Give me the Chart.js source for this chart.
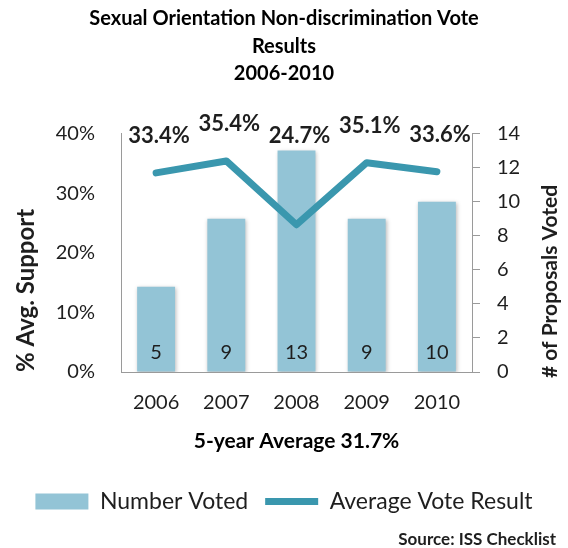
<!DOCTYPE html>
<html>
<head>
<meta charset="utf-8">
<script src="https://cdn.jsdelivr.net/npm/chart.js@4"></script>
<style>
  html, body { margin: 0; padding: 0; background: #ffffff; }
  #wrap { width: 568px; height: 548px; }
</style>
</head>
<body>
<div id="wrap"><canvas id="votosChart" width="568" height="548"></canvas></div>
<script>
// datos del gráfico
const anios = ['2006', '2007', '2008', '2009', '2010'];
const propuestasVotadas = [5, 9, 13, 9, 10];
const apoyoPromedio = [33.4, 35.4, 24.7, 35.1, 33.6];
const titulo = ['Sexual Orientation Non-discrimination Vote', 'Results', '2006-2010'];
const tituloEjeX = '5-year Average 31.7%';
const tituloEjeIzq = '% Avg. Support';
const tituloEjeDer = '# of Proposals Voted';
const fuente = 'Source: ISS Checklist';

const FUENTE = 'Lato, "DejaVu Sans", sans-serif';
const colorBarra = '#93c4d6';
const colorLinea = '#3a97ae';
const colorEje = '#9a9a9a';
const colorTexto = '#1e1e1e';

// sombra suave en las barras
const sombraBarras = {
    id: 'sombraBarras',
    beforeDatasetDraw(chart, args) {
        if (args.index !== 0) return;
        const ctx = chart.ctx;
        ctx.save();
        ctx.shadowColor = 'rgba(0,0,0,0.28)';
        ctx.shadowBlur = 4;
        ctx.shadowOffsetX = 1;
        ctx.shadowOffsetY = 1;
    },
    afterDatasetDraw(chart, args) {
        if (args.index !== 0) return;
        chart.ctx.restore();
    }
};

// etiquetas de datos, título del eje derecho y fuente
const etiquetas = {
    id: 'etiquetas',
    afterDatasetsDraw(chart) {
        const ctx = chart.ctx;
        const barras = chart.getDatasetMeta(0).data;
        const puntos = chart.getDatasetMeta(1).data;
        ctx.save();
        ctx.fillStyle = colorTexto;
        ctx.textAlign = 'center';
        ctx.textBaseline = 'middle';

        ctx.font = '20px ' + FUENTE;
        barras.forEach((b, i) => {
            ctx.fillText(String(propuestasVotadas[i]), b.x, b.base - 19);
        });

        ctx.font = 'bold 22px ' + FUENTE;
        puntos.forEach((p, i) => {
            const y = Math.min(p.y - 37, barras[i].y - 15);
            ctx.fillText(apoyoPromedio[i].toFixed(1) + '%', p.x + 3, y);
        });
        ctx.restore();
    },
    afterDraw(chart) {
        const ctx = chart.ctx;
        const area = chart.chartArea;
        ctx.save();
        ctx.fillStyle = colorTexto;
        ctx.font = 'bold 21px ' + FUENTE;
        ctx.translate(550, area.bottom + 6);
        ctx.rotate(-Math.PI / 2);
        ctx.textAlign = 'left';
        ctx.textBaseline = 'middle';
        ctx.fillText(tituloEjeDer, 0, 0);
        ctx.restore();

        ctx.save();
        ctx.fillStyle = colorTexto;
        ctx.font = 'bold 17px ' + FUENTE;
        ctx.textAlign = 'right';
        ctx.textBaseline = 'middle';
        ctx.fillText(fuente, 556, 540);
        ctx.restore();
    }
};

const ctx = document.getElementById('votosChart').getContext('2d');
new Chart(ctx, {
    type: 'bar',
    data: {
        labels: anios,
        datasets: [
            {
                type: 'bar',
                label: 'Number Voted',
                data: propuestasVotadas,
                backgroundColor: colorBarra,
                borderWidth: 0,
                yAxisID: 'yDer',
                barPercentage: 0.54,
                categoryPercentage: 1,
                pointStyle: 'rect',
                order: 2
            },
            {
                type: 'line',
                label: 'Average Vote Result',
                data: apoyoPromedio,
                borderColor: colorLinea,
                backgroundColor: colorLinea,
                borderWidth: 7,
                borderCapStyle: 'round',
                borderJoinStyle: 'round',
                pointRadius: 0,
                pointHoverRadius: 0,
                pointStyle: 'line',
                tension: 0,
                yAxisID: 'yIzq',
                order: 1
            }
        ]
    },
    options: {
        responsive: false,
        animation: false,
        layout: { padding: { left: 0, right: 0, top: 0, bottom: 25 } },
        plugins: {
            tooltip: { enabled: false },
            title: {
                display: true,
                text: titulo,
                color: '#000000',
                font: { family: FUENTE, size: 20, weight: 'bold', lineHeight: 1.375 },
                padding: { top: 5, bottom: 46 }
            },
            legend: {
                position: 'bottom',
                labels: {
                    usePointStyle: true,
                    pointStyleWidth: 53,
                    boxHeight: 16,
                    padding: 17,
                    color: colorTexto,
                    font: { family: FUENTE, size: 23 },
                    sort: (a, b) => a.datasetIndex - b.datasetIndex
                }
            }
        },
        scales: {
            x: {
                grid: { display: false, drawTicks: false },
                border: { display: true, color: colorEje, width: 1 },
                ticks: { color: colorTexto, font: { family: FUENTE, size: 20 }, padding: 19 },
                title: {
                    display: true,
                    text: tituloEjeX,
                    color: '#000000',
                    font: { family: FUENTE, size: 21, weight: 'bold' },
                    padding: { top: 0, bottom: 19 }
                },
                afterFit(scale) { scale.height = 101; }
            },
            yIzq: {
                position: 'left',
                min: 0,
                max: 40,
                grid: { display: false, drawTicks: false },
                border: { display: true, color: colorEje, width: 1 },
                ticks: {
                    stepSize: 10,
                    color: colorTexto,
                    font: { family: FUENTE, size: 20 },
                    padding: 26,
                    callback: v => v + '%'
                },
                title: {
                    display: true,
                    text: tituloEjeIzq,
                    align: 'start',
                    color: colorTexto,
                    font: { family: FUENTE, size: 24, weight: 'bold' },
                    padding: { top: 12, bottom: 0 }
                },
                afterFit(scale) { scale.width = 121; }
            },
            yDer: {
                position: 'right',
                min: 0,
                max: 14,
                grid: { drawOnChartArea: false, drawTicks: true, tickLength: 8, color: colorEje },
                border: { display: true, color: colorEje, width: 1 },
                ticks: {
                    stepSize: 2,
                    color: colorTexto,
                    font: { family: FUENTE, size: 20 },
                    padding: 17
                },
                afterFit(scale) { scale.width = 96; }
            }
        }
    },
    plugins: [sombraBarras, etiquetas]
});
</script>
</body>
</html>
